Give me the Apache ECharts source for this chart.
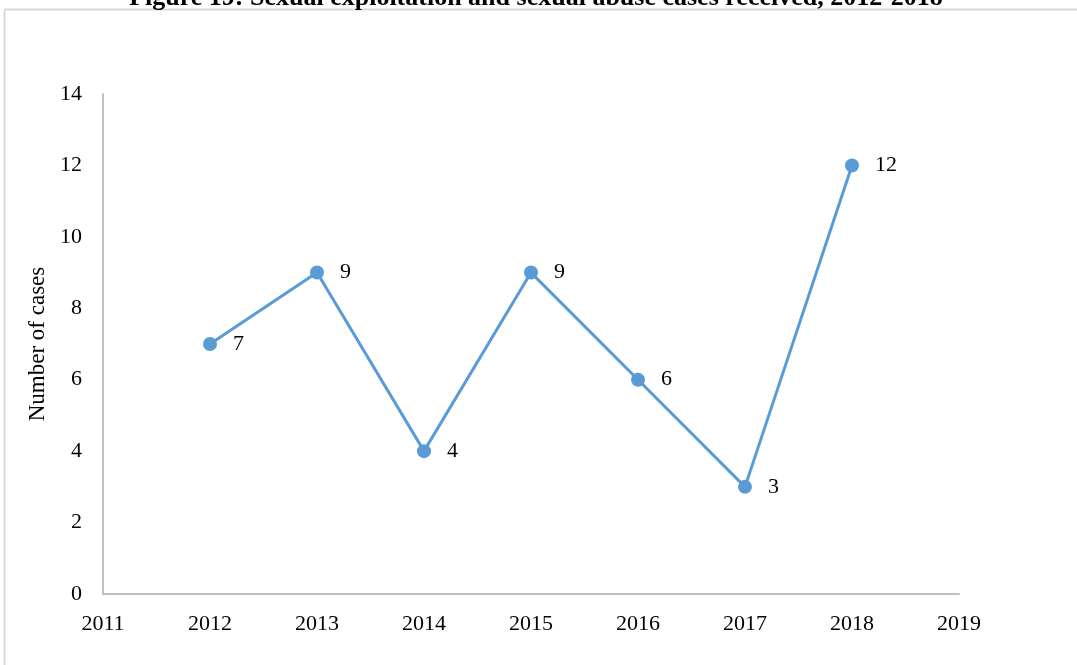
<!DOCTYPE html>
<html><head><meta charset="utf-8">
<script src="https://cdn.jsdelivr.net/npm/echarts@6/dist/echarts.min.js"></script>
<style>html,body{margin:0;padding:0;background:#fff}#c{width:1077px;height:665px}</style>
</head><body><div id="c"></div>
<script>
const years = [2012, 2013, 2014, 2015, 2016, 2017, 2018];
const cases = [7, 9, 4, 9, 6, 3, 12];
const xTicks = {min: 2011, max: 2019, interval: 1};
const yTicks = {min: 0, max: 14, interval: 2};
const titleText = 'Figure 19: Sexual exploitation and sexual abuse cases received, 2012-2018';
const yName = 'Number of cases';

const font = '"Liberation Serif", "Times New Roman", serif';
const chart = echarts.init(document.getElementById('c'), null, {renderer: 'canvas'});
chart.setOption({
  animation: false,
  backgroundColor: '#fff',
  graphic: [
    {type: 'line', z: 0, shape: {x1: 4.5, y1: 9.5, x2: 1077, y2: 9.5}, style: {stroke: '#d9d9d9', lineWidth: 2}},
    {type: 'line', z: 0, shape: {x1: 4.5, y1: 9.5, x2: 4.5, y2: 665}, style: {stroke: '#d9d9d9', lineWidth: 2}}
  ],
  title: {
    text: titleText, left: 531, top: -20, textAlign: 'center', z: 10,
    textStyle: {fontFamily: font, fontWeight: 'bold', fontSize: 26, color: '#000'}
  },
  grid: {left: 103, right: 118, top: 94, bottom: 71, containLabel: false},
  xAxis: {
    type: 'value', min: xTicks.min, max: xTicks.max, interval: xTicks.interval,
    axisLine: {show: true, lineStyle: {color: '#bfbfbf', width: 2}},
    axisTick: {show: false}, splitLine: {show: false},
    axisLabel: {fontFamily: font, fontSize: 22, color: '#000', margin: 19, formatter: v => String(v)}
  },
  yAxis: {
    type: 'value', min: yTicks.min, max: yTicks.max, interval: yTicks.interval,
    name: yName, nameLocation: 'middle', nameGap: 54, nameRotate: 90,
    nameTextStyle: {fontFamily: font, fontSize: 23, color: '#000'},
    axisLine: {show: true, lineStyle: {color: '#bfbfbf', width: 2}},
    axisTick: {show: false}, splitLine: {show: false},
    axisLabel: {fontFamily: font, fontSize: 22, color: '#000', margin: 21}
  },
  series: [{
    type: 'line',
    data: years.map((y, i) => [y, cases[i]]),
    symbol: 'circle', symbolSize: 14,
    lineStyle: {color: '#5B9BD5', width: 3},
    itemStyle: {color: '#5B9BD5'},
    label: {show: true, position: 'right', distance: 16, fontFamily: font, fontSize: 22, color: '#000',
      formatter: p => p.value[1]}
  }]
});
</script></body></html>
